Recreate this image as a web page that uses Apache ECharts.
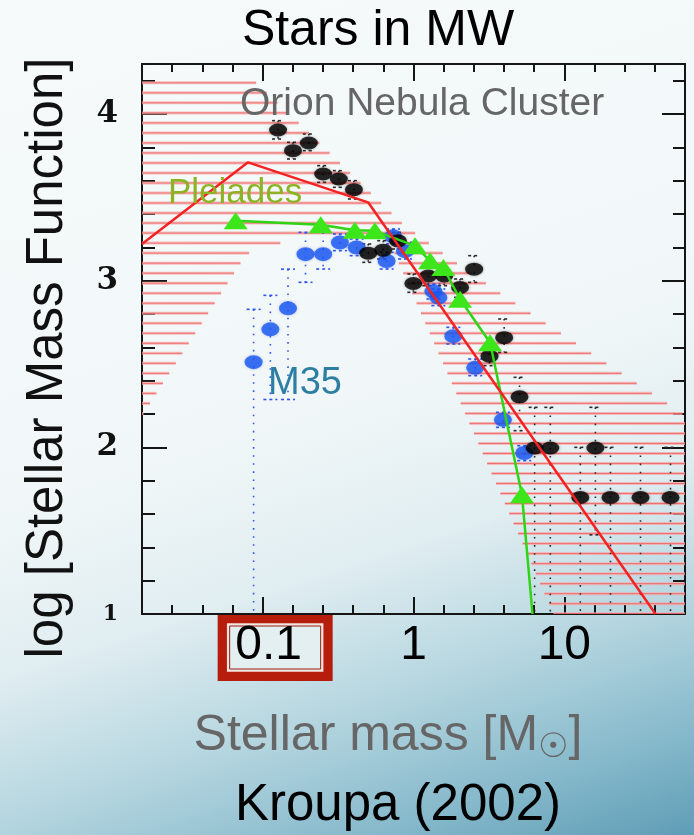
<!DOCTYPE html>
<html>
<head>
<meta charset="utf-8">
<script src="https://cdn.jsdelivr.net/npm/echarts@6/dist/echarts.min.js"></script>
<style>
  html, body { margin: 0; padding: 0; }
  body {
    width: 694px; height: 835px; overflow: hidden;
    background: linear-gradient(162deg, #f6fafb 0%, #f1f7f8 48%, #e0edf1 64%, #b4d5df 78%, #86b9cb 90%, #5f9db6 100%);
  }
  #chart { width: 694px; height: 835px; }
</style>
</head>
<body>
<div id="chart"></div>
<script>
// x = log10(mass / Msun), y = log10 of the mass function

// Kroupa (2002) IMF, broken power law
const kroupaX = [-1.8, -1.097, -0.301, 1.605];
const kroupaY = [3.22, 3.71, 3.47, 1.0];

// Pleiades (green triangles)
const pleiadesX = [-1.179, -0.615, -0.389, -0.256, 0.010, 0.110, 0.198, 0.309, 0.508, 0.719, 0.789];
const pleiadesY = [3.359, 3.335, 3.303, 3.299, 3.209, 3.119, 3.079, 2.888, 2.628, 1.716, 1.0];

// Orion Nebula Cluster (black dots) with error bars
const oncX  = [-0.898, -0.799, -0.694, -0.599, -0.495, -0.395, -0.300, -0.201, -0.103, -0.001, 0.098, 0.203, 0.309, 0.402, 0.504, 0.601, 0.703, 0.803, 0.907, 1.206, 1.106, 1.306, 1.505, 1.704];
const oncY  = [3.904, 3.780, 3.826, 3.640, 3.610, 3.546, 3.165, 3.183, 3.239, 2.983, 3.028, 3.028, 2.959, 3.069, 2.547, 2.658, 2.303, 1.996, 1.996, 1.996, 1.699, 1.699, 1.699, 1.699];
const oncLo = [3.85, 3.73, 3.78, 3.59, 3.56, 3.49, 3.11, 3.13, 3.19, 2.93, 2.97, 2.97, 2.90, 2.99, 2.49, 2.57, 2.10, 0.5, 0.5, 1.475, 0.5, 0.5, 0.5, 0.5];
const oncHi = [3.96, 3.83, 3.88, 3.69, 3.66, 3.60, 3.22, 3.24, 3.29, 3.04, 3.08, 3.08, 3.01, 3.15, 2.61, 2.77, 2.42, 2.24, 2.24, 2.24, 2.0, 2.0, 2.0, 2.0];

// M35 (blue dots) with error bars
const m35X  = [-1.060, -0.949, -0.832, -0.716, -0.599, -0.488, -0.377, -0.178, -0.136, -0.056, 0.132, 0.165, 0.264, 0.409, 0.593, 0.734];
const m35Y  = [2.511, 2.708, 2.834, 3.159, 3.159, 3.229, 3.199, 3.118, 3.266, 3.177, 2.936, 2.898, 2.667, 2.477, 2.165, 1.966];
const m35Lo = [0.5, 2.287, 2.287, 2.99, 3.07, 3.18, 3.15, 3.07, 3.22, 3.13, 2.89, 2.85, 2.62, 2.43, 2.12, 1.92];
const m35Hi = [2.828, 2.912, 3.069, 3.29, 3.29, 3.28, 3.25, 3.17, 3.31, 3.23, 2.98, 2.95, 2.72, 2.53, 2.21, 2.01];

// uncertainty band of the IMF (hatched region)
const bandUpperX = [-1.8, -1.07, -0.754, -0.07, 0.187, 0.586, 1.686, 1.8];
const bandUpperY = [4.21, 4.21, 3.94, 3.339, 3.169, 2.918, 2.261, 2.193];
const bandLowerX = [-1.8, -1.108, -0.85, -0.45, -0.16, 0.977, 1.8];
const bandLowerY = [2.19, 3.16, 3.235, 3.25, 3.235, 0.9, 0.9];
const hatchTop = 4.187;
const hatchStep = 0.0601;

// axis ticks / labels
const xLabelVals = [-1, 0, 1];
const xLabelText = ['0.1', '1', '10'];
const yLabelVals = [1, 2, 3, 4];

const SANS = 'Liberation Sans, Arial, sans-serif';
const zip = (a, b) => a.map((v, i) => [v, b[i]]);
const zip3 = (a, b, c) => a.map((v, i) => [v, b[i], c[i]]);

// polygon of the band, upper edge left->right then lower edge right->left
const bandPoly = zip(bandUpperX, bandUpperY).concat(zip(bandLowerX, bandLowerY).reverse());

function hatchSegments(h) {
    const xs = [];
    for (let i = 0; i < bandPoly.length; i++) {
        const p = bandPoly[i], q = bandPoly[(i + 1) % bandPoly.length];
        if ((p[1] <= h && q[1] > h) || (q[1] <= h && p[1] > h)) {
            xs.push(p[0] + (h - p[1]) * (q[0] - p[0]) / (q[1] - p[1]));
        }
    }
    xs.sort((a, b) => a - b);
    const segs = [];
    for (let i = 0; i + 1 < xs.length; i += 2) segs.push([xs[i], xs[i + 1]]);
    return segs;
}

function renderHatch(params, api) {
    const children = [];
    for (let h = hatchTop; h > 1.0; h -= hatchStep) {
        hatchSegments(h).forEach(([x1, x2]) => {
            const a = api.coord([x1, h]), b = api.coord([x2, h]);
            children.push({ type: 'line', shape: { x1: a[0], y1: a[1], x2: b[0], y2: b[1] },
                style: { stroke: 'rgba(246,170,170,0.75)', lineWidth: 3 } });
            children.push({ type: 'line', shape: { x1: a[0], y1: a[1], x2: b[0], y2: b[1] },
                style: { stroke: 'rgba(238,90,90,0.8)', lineWidth: 1 } });
        });
    }
    return { type: 'group', children };
}

function errRenderer(color, capW) {
    return (params, api) => {
        const x = api.value(0), lo = api.value(1), hi = api.value(2);
        const a = api.coord([x, hi]), b = api.coord([x, lo]);
        const bar = { stroke: color, lineWidth: 1.6, lineDash: [1.6, 6.5] };
        const cap = { stroke: color, lineWidth: 1.6, lineDash: [3, 3] };
        return { type: 'group', children: [
            { type: 'line', shape: { x1: a[0], y1: a[1], x2: b[0], y2: b[1] }, style: bar },
            { type: 'line', shape: { x1: a[0] - capW, y1: a[1], x2: a[0] + capW, y2: a[1] }, style: cap },
            { type: 'line', shape: { x1: b[0] - capW, y1: b[1], x2: b[0] + capW, y2: b[1] }, style: cap }
        ] };
    };
}

const ELLIPSE = 'path://M0,50A50,50,0,1,1,100,50A50,50,0,1,1,0,50Z';
const lineStyleAxis = { color: '#151515', width: 2 };

function mkX(position, len, major, withLine, withLabel) {
    return {
        type: 'value', min: -1.8, max: 1.8, interval: 0.2, position,
        axisLine: { show: withLine, onZero: false, lineStyle: lineStyleAxis },
        axisTick: major ? { inside: true, length: len, customValues: xLabelVals, lineStyle: lineStyleAxis }
                        : { inside: true, length: len, lineStyle: lineStyleAxis },
        axisLabel: withLabel ? {
            customValues: xLabelVals,
            formatter: v => {
                const t = xLabelText[xLabelVals.indexOf(Math.round(v))];
                return v === -1 ? '{sh|' + t + '}' : t;
            },
            fontFamily: SANS, fontSize: 48, color: '#000', margin: 8,
            rich: { sh: { fontFamily: SANS, fontSize: 48, color: '#000', padding: [0, 0, 0, 12] } }
        } : { show: false },
        splitLine: { show: false }
    };
}

function mkY(position, len, major, withLine, withLabel) {
    return {
        type: 'value', min: 1, max: 4.3, interval: 0.2, position,
        axisLine: { show: withLine, onZero: false, lineStyle: lineStyleAxis },
        axisTick: major ? { inside: true, length: len, customValues: yLabelVals, lineStyle: lineStyleAxis }
                        : { inside: true, length: len, lineStyle: lineStyleAxis },
        axisLabel: withLabel ? {
            customValues: yLabelVals,
            formatter: v => (Math.round(v) === 1 ? '{s|1}' : '{b|' + Math.round(v) + '}'),
            margin: 24,
            rich: {
                b: { fontFamily: 'DejaVu Serif', fontWeight: 'bold', fontSize: 31, color: '#111' },
                s: { fontFamily: 'DejaVu Serif', fontWeight: 'bold', fontSize: 22, color: '#111' }
            }
        } : { show: false },
        splitLine: { show: false }
    };
}

const chart = echarts.init(document.getElementById('chart'), null, { renderer: 'canvas' });

const option = {
    backgroundColor: 'transparent',
    animation: false,
    grid: { left: 142, right: 9, top: 64, bottom: 221, containLabel: false },
    xAxis: [
        mkX('bottom', 9, false, true, true),
        mkX('bottom', 17, true, false, false),
        mkX('top', 8, false, true, false),
        mkX('top', 17, true, false, false)
    ],
    yAxis: [
        mkY('left', 13, false, true, true),
        mkY('left', 25, true, false, false),
        mkY('right', 12, false, true, false),
        mkY('right', 23, true, false, false)
    ],
    series: [
        {
            name: 'band', type: 'custom', clip: true, silent: true, z: 1,
            renderItem: renderHatch, data: [[0, 0]]
        },
        {
            name: 'M35 err', type: 'custom', clip: true, z: 2,
            renderItem: errRenderer('#2f55ee', 7), data: zip3(m35X, m35Lo, m35Hi)
        },
        {
            name: 'ONC err', type: 'custom', clip: true, z: 2,
            renderItem: errRenderer('#2a2a2a', 6), data: zip3(oncX, oncLo, oncHi)
        },
        {
            name: 'M35', type: 'scatter', z: 3,
            symbol: ELLIPSE, symbolSize: [18, 14],
            itemStyle: { color: '#1757f2', shadowBlur: 3, shadowColor: 'rgba(40,60,200,0.35)' },
            data: zip(m35X, m35Y)
        },
        {
            name: 'Orion Nebula Cluster', type: 'scatter', z: 4,
            symbol: ELLIPSE, symbolSize: [18, 13],
            itemStyle: { color: '#000', shadowBlur: 3, shadowColor: 'rgba(0,0,0,0.45)' },
            data: zip(oncX, oncY)
        },
        {
            name: 'Pleiades', type: 'line', z: 5,
            symbol: 'triangle', symbolSize: [24, 17], showAllSymbol: true,
            lineStyle: { color: '#2fd414', width: 2.5 },
            itemStyle: { color: '#3de61b' },
            data: zip(pleiadesX, pleiadesY).map((p, i, arr) =>
                i === arr.length - 1 ? { value: p, symbol: 'none' } : p)
        },
        {
            name: 'Kroupa', type: 'line', z: 6, symbol: 'none',
            lineStyle: { color: '#f42222', width: 2.5 },
            data: zip(kroupaX, kroupaY)
        }
    ],
    graphic: [
        { id: 'title', type: 'text', x: 378, y: 31, style: { text: 'Stars in MW', font: '50px ' + SANS, fill: '#000', align: 'center', verticalAlign: 'middle' } },
        { id: 'onc', type: 'text', x: 240, y: 104, z: 10, style: { text: 'Orion Nebula Cluster', font: '39px ' + SANS, fill: '#666', align: 'left', verticalAlign: 'middle' } },
        { id: 'ple', type: 'text', x: 168, y: 193, z: 10, style: { text: 'Pleiades', font: '35px ' + SANS, fill: '#8ab424', align: 'left', verticalAlign: 'middle' } },
        { id: 'm35', type: 'text', x: 268, y: 384, z: 10, style: { text: 'M35', font: '38px ' + SANS, fill: '#2c7ea3', align: 'left', verticalAlign: 'middle' } },
        { id: 'yname', type: 'text', x: 48, y: 358, rotation: Math.PI / 2, style: { text: 'log [Stellar Mass Function]', font: '51px ' + SANS, fill: '#111', align: 'center', verticalAlign: 'middle' } },
        { id: 'xname', type: 'text', x: 388, y: 736, style: {
            text: 'Stellar mass [M{sun|\u2609}]', font: '50px ' + SANS, fill: '#666', align: 'center', verticalAlign: 'middle',
            rich: { sun: { fontFamily: 'DejaVu Sans', fontSize: 34, fill: '#666', padding: [24, 0, 0, 0] } } } },
        { id: 'cite', type: 'text', x: 398, y: 806, style: { text: 'Kroupa (2002)', font: '51px ' + SANS, fill: '#000', align: 'center', verticalAlign: 'middle' } }
    ]
};

chart.setOption(option);

// red frame around the 0.1 tick label
const px = chart.convertToPixel({ xAxisIndex: 0 }, xLabelVals[0]);
const by = 614;
chart.setOption({
    graphic: [
        { id: 'box1', type: 'rect', z: -10, shape: { x: px - 45, y: by, width: 115, height: 67 }, style: { fill: '#b61d0c' } },
        { id: 'box2', type: 'rect', z: -9, shape: { x: px - 35, y: by + 10, width: 95, height: 47 }, style: { fill: '#e4eff2', stroke: '#f3e4de', lineWidth: 1.5 } },
        { id: 'box3', type: 'rect', z: -8, shape: { x: px - 33, y: by + 12, width: 91, height: 43 }, style: { fill: 'none', stroke: '#9c1a0a', lineWidth: 1 } }
    ]
});
</script>
</body>
</html>
